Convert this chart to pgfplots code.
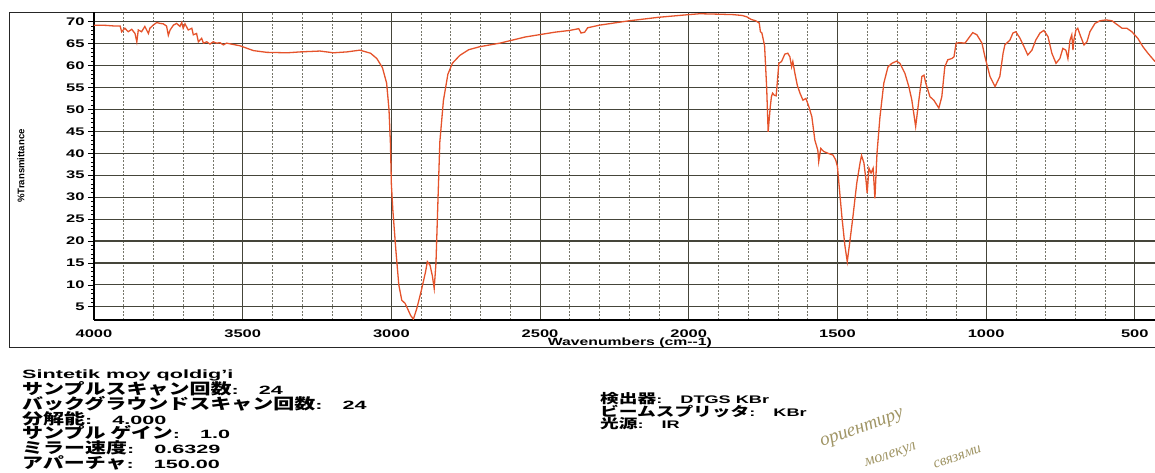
\documentclass[border=0pt]{standalone}
\usepackage{graphicx}
\usepackage{pgfplots}
\pgfplotsset{compat=1.18}
\usepackage{fontspec}
\setmainfont{Liberation Sans}
\newfontfamily\wf[FakeStretch=1.5]{Liberation Sans}
\newfontfamily\jp{Noto Sans CJK JP}
\newfontfamily\hw{Liberation Serif}
\definecolor{curve}{HTML}{E5532B}
\definecolor{gridmaj}{HTML}{45453A}
\definecolor{gridmin}{HTML}{76766A}
\definecolor{ink}{HTML}{A09565}
\newcommand\JT[1]{\scalebox{1.4}[1]{\jp\bfseries\fontsize{15}{15}\selectfont #1}}
\newcommand\LT[1]{\scalebox{1.8}[1]{\bfseries\fontsize{12}{12}\selectfont #1}}
\newcommand\CT[1]{\LT{:}\hspace{20pt}\LT{#1}}
\newcommand\JS[1]{\scalebox{1.44}[1]{\jp\bfseries\fontsize{13}{13}\selectfont #1}}
\newcommand\LS[1]{\scalebox{1.65}[1]{\bfseries\fontsize{11}{11}\selectfont #1}}
\newcommand\CS[1]{\LS{:}\hspace{18pt}\LS{#1}}
\begin{document}
\begin{tikzpicture}[x=1pt,y=1pt]
\path[use as bounding box] (0,0) rectangle (1155,473);
\draw[line width=0.9pt, black!85] (1160,461) -- (9.5,461) -- (9.5,126) -- (1160,126);
\begin{axis}[at={(94pt,153pt)}, anchor=south west, width=1061pt, height=308pt, scale only axis,
  x dir=reverse, xmin=432, xmax=4000, ymin=2, ymax=72.2,
  axis x line*=bottom, axis y line*=left,
  axis line style={-, line width=1.6pt, black},
  xtick={500,1000,...,4000}, minor x tick num=4,
  ytick={5,10,...,70}, minor y tick num=4,
  xmajorgrids=true, xminorgrids=true, ymajorgrids=true, yminorgrids=false,
  major grid style={gridmaj, line width=1.1pt},
  minor grid style={gridmin, line width=0.7pt, dash pattern=on 2pt off 1.5pt},
  tick align=outside,
  xtick style={draw=none},
  ytick style={black, line width=0.7pt},
  major tick length=6pt, minor tick length=3pt,
  ticklabel style={font=\wf\bfseries\fontsize{11}{11}\selectfont},
  /pgf/number format/assume math mode=true,
  /pgf/number format/1000 sep={},
  xlabel={Wavenumbers (cm--1)},
  xlabel style={at={(axis description cs:0.505,0)}, anchor=base, yshift=-26pt,
    font=\wf\bfseries\fontsize{10.5}{11}\selectfont},
  clip=true,
]
\addplot[curve, line width=1.3pt] table {
4000 69.2
3960 69.15
3930 69.0
3912 69.0
3907 67.7
3896 68.5
3885 67.7
3873 68.25
3862 67.3
3856 65.4
3851 68.1
3840 67.7
3829 68.9
3817 67.3
3812 68.5
3801 69.2
3789 69.8
3778 69.6
3767 69.5
3756 69.0
3750 66.9
3744 68.1
3733 69.2
3722 69.6
3711 68.9
3705 69.8
3700 68.5
3694 69.5
3683 68.1
3671 68.5
3666 67.0
3655 67.3
3649 65.4
3638 66.2
3632 65.1
3621 65.4
3610 64.9
3599 65.4
3588 65.1
3576 65.2
3565 64.7
3554 65.1
3532 64.8
3509 64.5
3464 63.4
3419 63.0
3350 62.9
3307 63.1
3240 63.3
3195 62.9
3150 63.1
3106 63.5
3070 62.8
3049 61.6
3030 59.5
3016 56.0
3008 50
3003 42
3000 33
2995 27
2985 18
2975 10
2965 6.5
2954 5.8
2945 4.5
2935 3.0
2926 2.2
2915 4.5
2900 8.5
2885 13
2879 15.3
2870 14.5
2862 12
2856 9.2
2850 15
2843 30
2837 42.6
2825 52
2810 58
2795 60.5
2770 62.3
2740 63.6
2702 64.3
2660 64.8
2635 65.1
2550 66.5
2450 67.6
2400 68.0
2370 68.4
2362 67.4
2350 67.6
2340 68.6
2300 69.2
2200 70.2
2100 71.0
2000 71.6
1963 71.8
1900 71.7
1850 71.6
1820 71.4
1805 71.1
1790 70.5
1775 70.2
1763 69.7
1759 67.7
1754 67.4
1745 64.5
1738 55
1733 44.9
1726 50.5
1722 52.9
1718 53.7
1712 53.2
1706 53.1
1697 60.5
1688 60.9
1677 62.6
1667 62.8
1660 62.0
1654 59.7
1650 60.9
1643 58.2
1635 55.5
1626 53.7
1616 52.1
1606 52.5
1596 50.6
1586 48.3
1576 43.0
1566 40.7
1563 38.1
1556 41.1
1546 40.4
1532 40.0
1515 39.6
1506 38.5
1500 37.0
1495 33.1
1485 25.5
1475 19
1467 15.3
1458 20
1448 25.5
1435 33.2
1424 37.8
1419 39.5
1411 37.8
1404 33.9
1400 30.9
1394 36.6
1387 35.5
1380 36.6
1374 29.7
1367 40
1357 48.3
1344 56
1330 59.7
1317 60.5
1301 61
1290 60.5
1273 58.2
1260 55.2
1250 52.2
1237 46.1
1226 52.2
1216 57.5
1209 57.8
1203 56
1189 52.9
1176 52.1
1159 50.3
1149 52.9
1139 59.7
1129 61.3
1115 61.6
1108 62
1101 65.1
1088 65.2
1071 65.1
1055 66.6
1045 67.5
1031 67
1014 65.1
1004 62
987 57.5
970 55.2
954 57.5
943 62.8
937 64.7
920 65.8
910 67.4
900 67.7
886 66.2
870 63.9
860 62.4
846 63.5
833 65.8
819 67.4
806 68
792 66.6
779 62.8
765 60.5
752 61.6
742 63.9
732 63.5
725 61.6
718 65.8
712 67
708 63.5
705 65.8
698 68.1
692 68.5
682 66.6
671 64.7
661 65.4
651 67.7
634 69.6
617 70.2
597 70.4
577 70.2
557 69.2
543 68.5
527 68.5
510 67.7
490 66.2
473 64.3
456 62.8
432 60.9
};
\end{axis}
\node[rotate=90, anchor=center, font=\bfseries\fontsize{9.6}{10}\selectfont] at (21,307) {\%Transmittance};
% left info block
\node[anchor=base west, inner sep=0pt] at (22,94) {\LT{Sintetik moy qoldig’i}};
\node[anchor=base west, inner sep=0pt] at (22,78) {\JT{サンプルスキャン回数}\CT{24}};
\node[anchor=base west, inner sep=0pt] at (22,63) {\JT{バックグラウンドスキャン回数}\CT{24}};
\node[anchor=base west, inner sep=0pt] at (22,48.5) {\JT{分解能}\CT{4.000}};
\node[anchor=base west, inner sep=0pt] at (22,34) {\JT{サンプル ゲイン}\CT{1.0}};
\node[anchor=base west, inner sep=0pt] at (22,19) {\JT{ミラー速度}\CT{0.6329}};
\node[anchor=base west, inner sep=0pt] at (22,4) {\JT{アパーチャ}\CT{150.00}};
% right info block
\node[anchor=base west, inner sep=0pt] at (600,69) {\JS{検出器}\CS{DTGS KBr}};
\node[anchor=base west, inner sep=0pt] at (600,56.5) {\JS{ビームスプリッタ}\CS{KBr}};
\node[anchor=base west, inner sep=0pt] at (600,44.5) {\JS{光源}\CS{IR}};
% handwritten note
\node[anchor=base west, inner sep=0pt, rotate=20, text=ink, font=\hw\itshape\fontsize{19}{19}\selectfont] at (822,26) {ориентиру};
\node[anchor=base west, inner sep=0pt, rotate=19, text=ink, font=\hw\itshape\fontsize{16}{16}\selectfont] at (866,6) {молекул};
\node[anchor=base west, inner sep=0pt, rotate=20, text=ink, font=\hw\itshape\fontsize{15}{15}\selectfont] at (935,4) {связями};
\end{tikzpicture}
\end{document}
